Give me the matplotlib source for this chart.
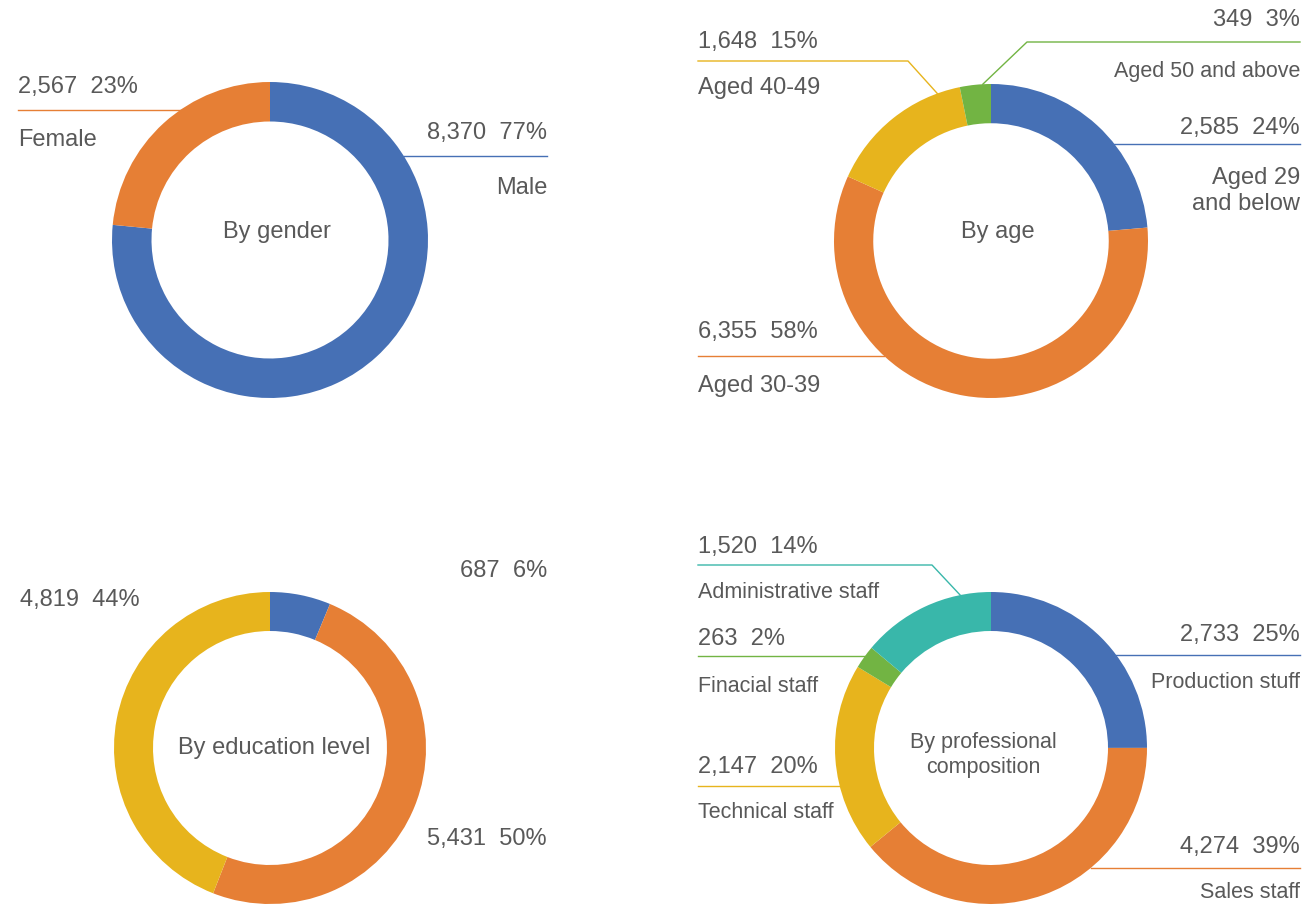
import matplotlib
matplotlib.use("Agg")
import matplotlib.pyplot as plt
import numpy as np

plt.rcParams.update({"font.family": ["Liberation Sans", "DejaVu Sans"], "font.size": 17})

W, H = 1305, 907
TXT = "#595959"
BLUE, ORANGE, YELLOW, GREEN, TEAL = "#4670B5", "#E67F35", "#E7B41D", "#72B443", "#39B7AA"
BIG, SMALL = 17, 15.5   # long names in the original are set tighter

# ── data ────────────────────────────────────────────────────────────────
gender_names = ["Male", "Female"]
gender_vals = [8370, 2567]

age_names = ["Aged 29\nand below", "Aged 30-39", "Aged 40-49", "Aged 50 and above"]
age_vals = [2585, 6355, 1648, 349]

edu_vals = [687, 5431, 4819]

prof_names = ["Production stuff", "Sales staff", "Technical staff",
              "Finacial staff", "Administrative staff"]
prof_vals = [2733, 4274, 2147, 263, 1520]

fig = plt.figure(figsize=(W / 100, H / 100), dpi=100)
ax = fig.add_axes([0, 0, 1, 1])


def fy(y):  # pixel row -> data y
    return H - y


def donut(vals, colors, cx, cy, r, title, tx, ty, size=BIG):
    ax.pie(vals, colors=colors, radius=r, center=(cx, fy(cy)), startangle=90,
           counterclock=False, frame=False,
           wedgeprops=dict(width=0.25 * r, edgecolor="none"))
    ax.text(tx, fy(ty), title, ha="center", va="center", color=TXT,
            fontsize=size, linespacing=1.3)


def callout(cx, cy, r, val, total, side, x, y_num, color, name=None, y_name=None,
            y_line=None, elbow=None, ang=None, size=BIG):
    ha = "left" if side == "L" else "right"
    ax.text(x, fy(y_num), f"{val:,}  {round(val / total * 100)}%", ha=ha, va="center",
            color=TXT, fontsize=BIG)
    if name:
        ax.text(x, fy(y_name), name, ha=ha, va="center", color=TXT, fontsize=size,
                linespacing=1.25)
    if y_line is None:
        return
    if elbow is None:
        dx = np.sqrt(r ** 2 - (y_line - cy) ** 2)
        xs = [x, cx - dx if side == "L" else cx + dx]
        ys = [y_line, y_line]
    else:
        t = np.radians(ang)
        xs = [x, elbow, cx + r * np.sin(t)]
        ys = [y_line, y_line, cy - r * np.cos(t)]
    ax.plot(xs, [fy(v) for v in ys], color=color, lw=1)


# ── 1. by gender ────────────────────────────────────────────────────────
g = dict(cx=270, cy=240, r=158)
donut(gender_vals, [BLUE, ORANGE], g["cx"], g["cy"], g["r"], "By gender", 277, 232)
tot = sum(gender_vals)
callout(**g, val=gender_vals[0], total=tot, side="R", x=547, y_num=133, color=BLUE,
        name=gender_names[0], y_name=188, y_line=156)
callout(**g, val=gender_vals[1], total=tot, side="L", x=18, y_num=87, color=ORANGE,
        name=gender_names[1], y_name=140, y_line=110)

# ── 2. by age ───────────────────────────────────────────────────────────
a = dict(cx=991, cy=241, r=157)
donut(age_vals, [BLUE, ORANGE, YELLOW, GREEN], a["cx"], a["cy"], a["r"], "By age", 998, 232)
tot = sum(age_vals)
callout(**a, val=age_vals[0], total=tot, side="R", x=1300, y_num=128, color=BLUE,
        name=age_names[0], y_name=191, y_line=144)
callout(**a, val=age_vals[1], total=tot, side="L", x=698, y_num=332, color=ORANGE,
        name=age_names[1], y_name=386, y_line=356)
callout(**a, val=age_vals[2], total=tot, side="L", x=698, y_num=42, color=YELLOW,
        name=age_names[2], y_name=88, y_line=61, elbow=908, ang=340)
callout(**a, val=age_vals[3], total=tot, side="R", x=1300, y_num=20, color=GREEN,
        name=age_names[3], y_name=72, y_line=42, elbow=1027, ang=357, size=SMALL)

# ── 3. by education level ───────────────────────────────────────────────
e = dict(cx=270, cy=748, r=156)
donut(edu_vals, [BLUE, ORANGE, YELLOW], e["cx"], e["cy"], e["r"], "By education level", 274, 748)
tot = sum(edu_vals)
callout(**e, val=edu_vals[0], total=tot, side="R", x=547, y_num=571, color=BLUE)
callout(**e, val=edu_vals[1], total=tot, side="R", x=547, y_num=839, color=ORANGE)
callout(**e, val=edu_vals[2], total=tot, side="L", x=20, y_num=600, color=YELLOW)

# ── 4. by professional composition ──────────────────────────────────────
p = dict(cx=991, cy=748, r=156)
donut(prof_vals, [BLUE, ORANGE, YELLOW, GREEN, TEAL], p["cx"], p["cy"], p["r"],
      "By professional\ncomposition", 983, 755, size=SMALL)
tot = sum(prof_vals)
callout(**p, val=prof_vals[0], total=tot, side="R", x=1300, y_num=635, color=BLUE,
        name=prof_names[0], y_name=683, y_line=655, size=SMALL)
callout(**p, val=prof_vals[1], total=tot, side="R", x=1300, y_num=847, color=ORANGE,
        name=prof_names[1], y_name=893, y_line=868, size=SMALL)
callout(**p, val=prof_vals[2], total=tot, side="L", x=698, y_num=767, color=YELLOW,
        name=prof_names[2], y_name=813, y_line=786, size=SMALL)
callout(**p, val=prof_vals[3], total=tot, side="L", x=698, y_num=639, color=GREEN,
        name=prof_names[3], y_name=687, y_line=656, size=SMALL)
callout(**p, val=prof_vals[4], total=tot, side="L", x=698, y_num=547, color=TEAL,
        name=prof_names[4], y_name=593, y_line=565, elbow=932, ang=348.6, size=SMALL)

ax.set_xlim(0, W)
ax.set_ylim(0, H)
ax.set_aspect("equal")
ax.axis("off")
fig.savefig("out.png", dpi=100)
